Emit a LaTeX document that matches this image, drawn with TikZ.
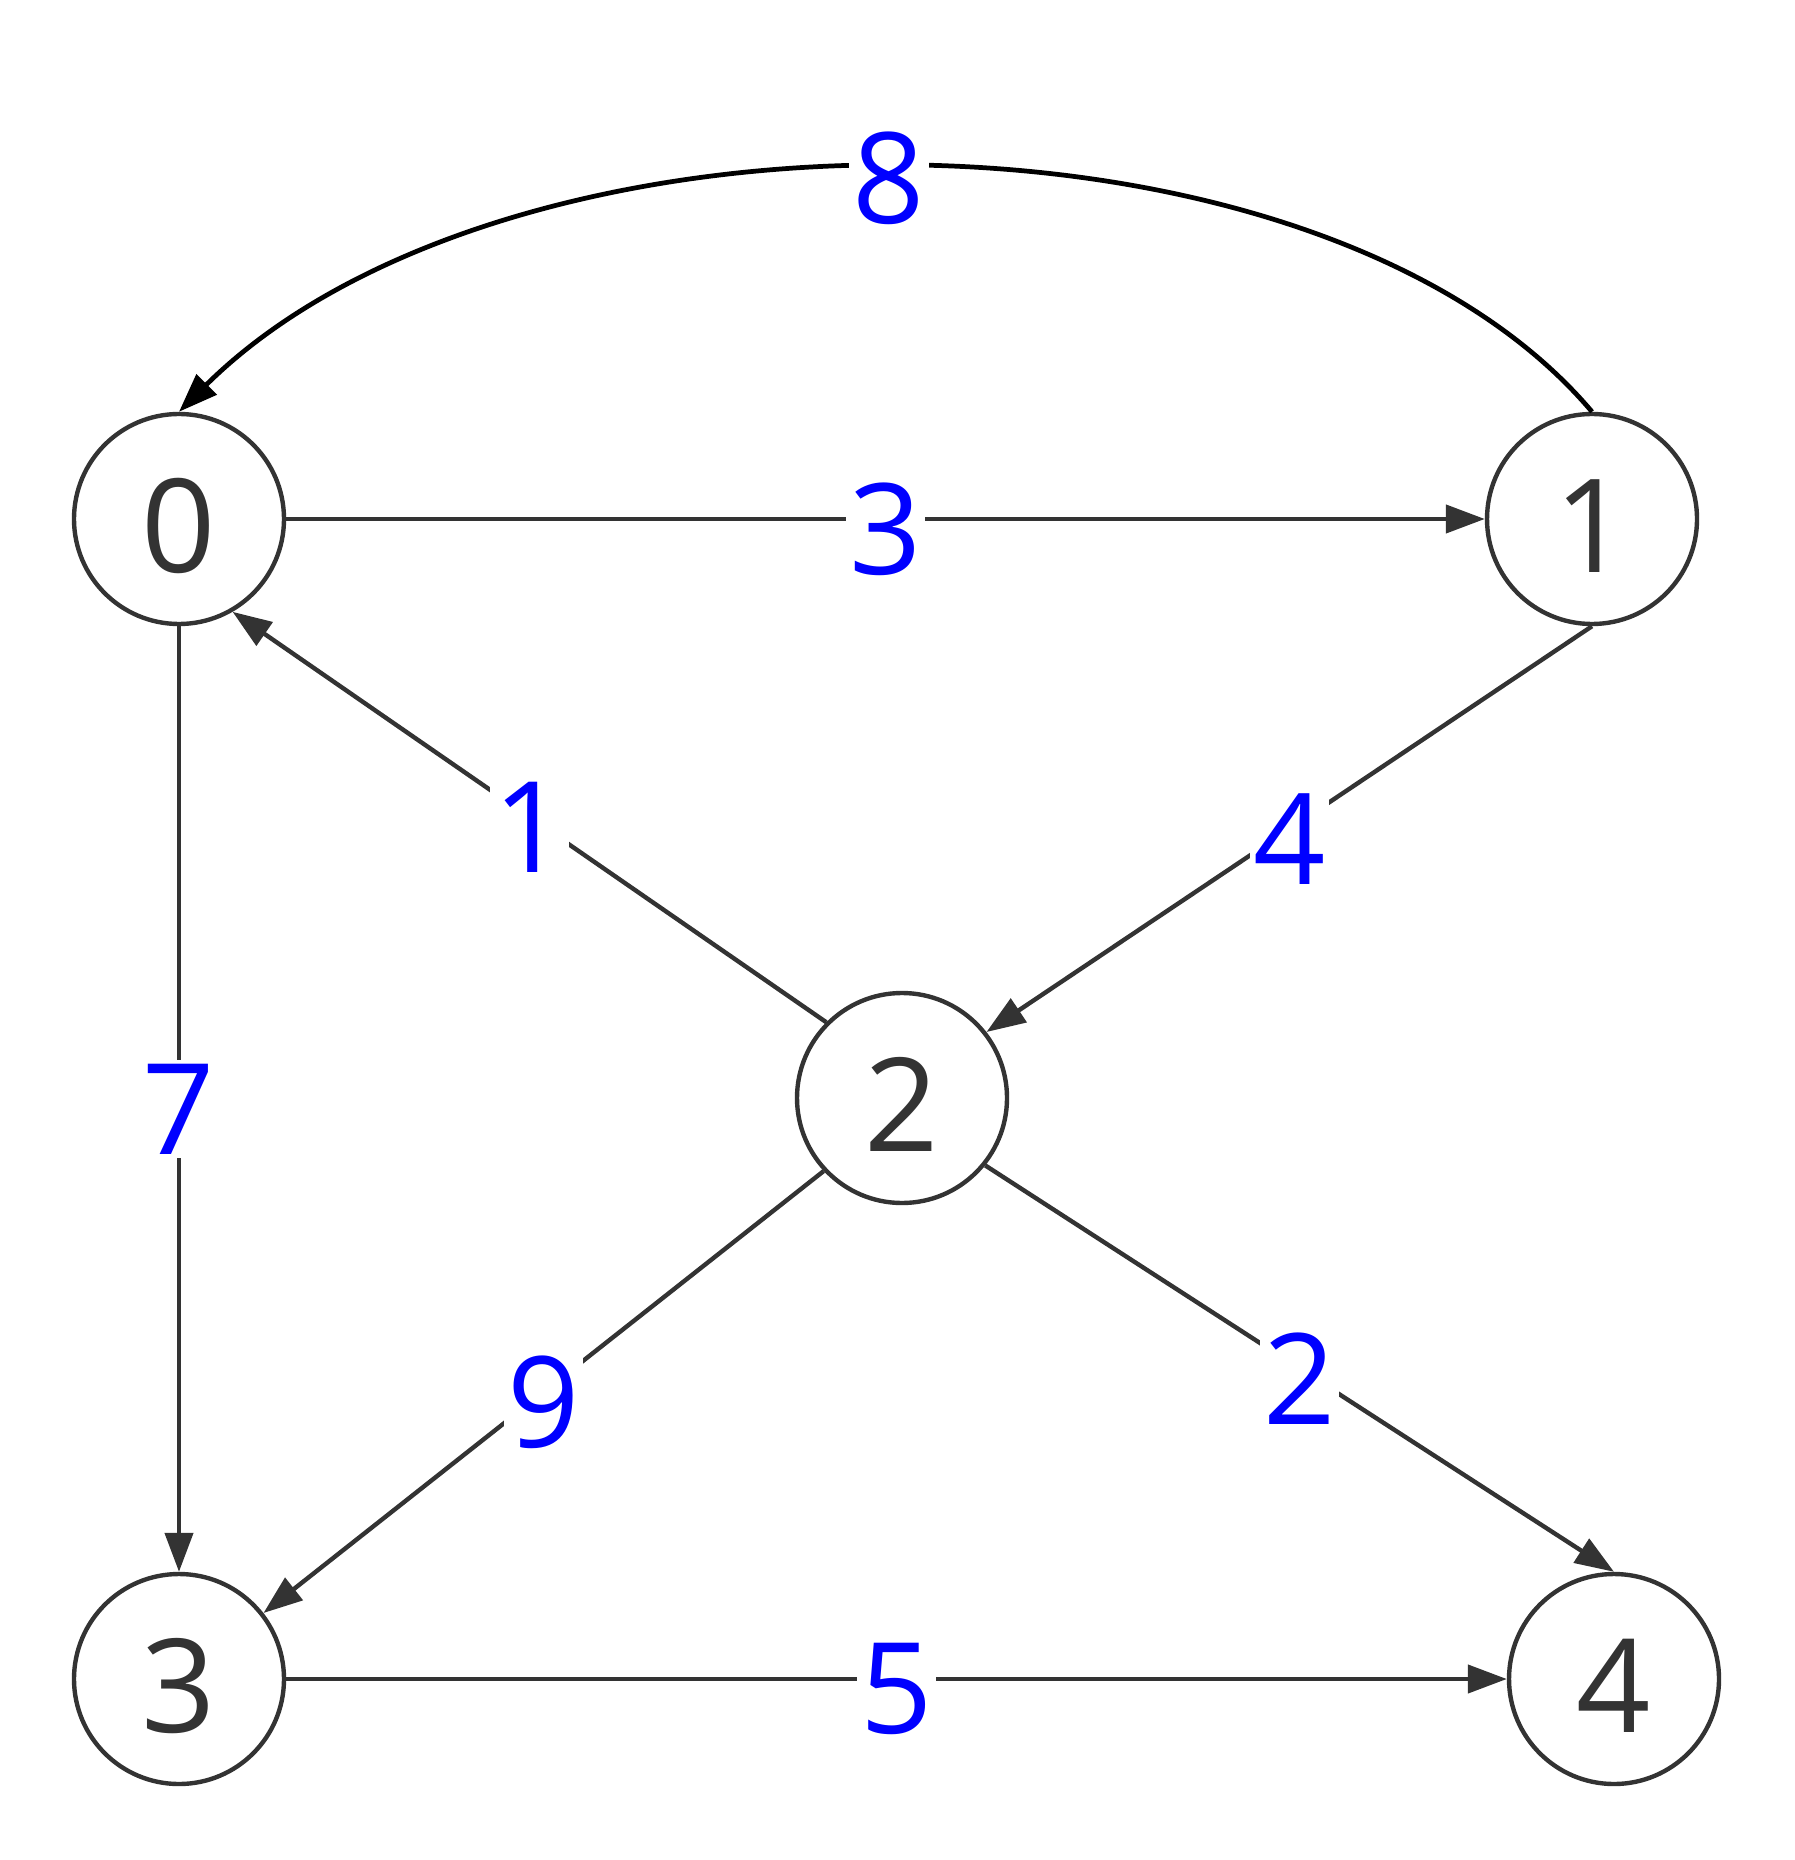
\documentclass[tikz,border=0pt]{standalone}
\usepackage{fontspec}
\setmainfont{Open Sans}
\usepackage{tikz}
\usetikzlibrary{positioning,arrows.meta}
\definecolor{nodegray}{HTML}{333333}
\definecolor{wblue}{HTML}{0000FF}

\begin{document}
\begin{tikzpicture}[
  vertex/.style={
    circle, draw=nodegray, line width=1.25pt, minimum size=2.1cm,
    inner sep=0pt, text=nodegray, font=\fontsize{37}{40}\selectfont,
    text height=1.07cm, text depth=0pt
  },
  edge/.style={-{Triangle[length=0.39cm,width=0.28cm]}, line width=1.25pt, nodegray},
  weight/.style={fill=white, inner sep=1pt, text=wblue,
    font=\fontsize{36}{40}\selectfont, yshift=-0.1cm}
]
\useasboundingbox (0,0) rectangle (17.94,-18.60);

\node[vertex] (n0) at (1.79,-5.19) {0};
\node[vertex] (n1) at (15.92,-5.19) {1};
\node[vertex] (n2) at (9.02,-10.98) {2};
\node[vertex] (n3) at (1.79,-16.79) {3};
\node[vertex] (n4) at (16.14,-16.79) {4};

\foreach \a/\b/\w in {n0.east/n1.west/3, n2.135/n0.-60/1, n1.south/n2.38/4,
  n0.south/n3.north/7, n2.-137/n3.38/9, n2.-39/n4.north/2, n3.east/n4.west/5}{
  \draw[edge] (\a) -- node[weight] {\w} (\b);
}

\draw[edge, black, line width=1.35pt] (n1.north) .. controls (13.18,-0.87) and (5.07,-0.87) .. (n0.north)
  node[weight, pos=0.51] {8};
\end{tikzpicture}
\end{document}
